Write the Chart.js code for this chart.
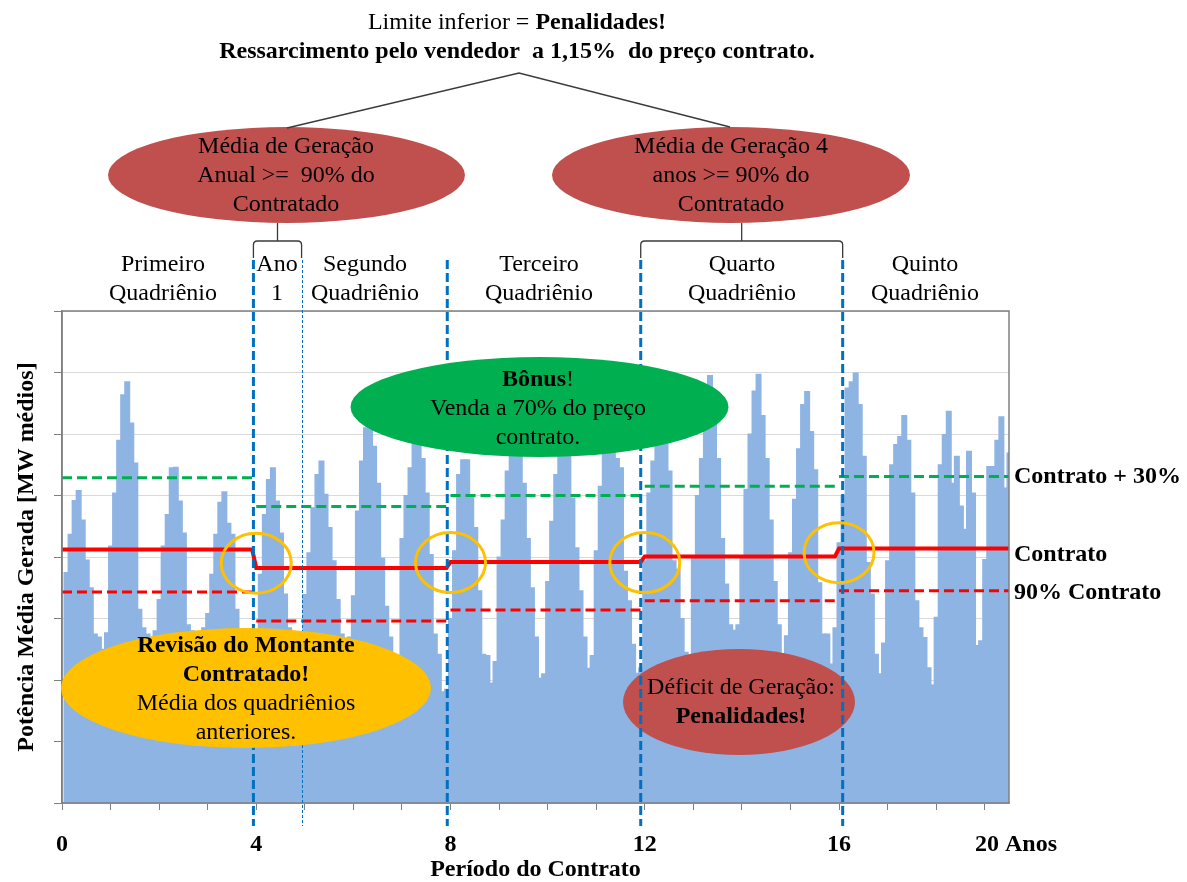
<!DOCTYPE html>
<html lang="pt-BR">
<head>
<meta charset="utf-8">
<title>Período do Contrato</title>
<script src="https://cdn.jsdelivr.net/npm/chart.js@4.4.1/dist/chart.umd.min.js"></script>
<style>
  html, body { margin: 0; padding: 0; background: #fff; }
  canvas { display: block; }
</style>
</head>
<body>
<canvas id="grafico" width="1187" height="882"></canvas>
<script>
// geração média mensal [MW médios], 234 meses - uma linha por ano
const geracao = [
  3.75, 4.37, 4.92, 5.08, 4.60, 3.95, 3.50, 2.75, 2.70, 2.50, 2.77, 4.18,
  5.04, 5.90, 6.64, 6.85, 6.18, 5.53, 3.15, 2.85, 2.75, 2.70, 2.80, 3.31,
  4.18, 4.69, 5.45, 5.46, 4.91, 4.39, 2.90, 2.80, 2.75, 2.78, 2.85, 3.08,
  3.72, 4.37, 4.89, 5.06, 4.55, 4.37, 3.15, 2.80, 2.70, 2.60, 2.60, 2.70,
  3.72, 4.69, 5.26, 5.45, 4.91, 4.39, 3.40, 2.85, 2.75, 2.70, 2.75, 3.39,
  4.07, 4.80, 5.34, 5.56, 5.02, 4.48, 3.94, 3.31, 2.75, 2.68, 2.70, 3.37,
  4.75, 5.56, 6.10, 6.50, 5.80, 5.20, 3.98, 3.20, 2.70, 2.40, 2.35, 4.30,
  5.00, 5.45, 6.20, 6.30, 5.60, 5.04, 4.04, 2.75, 2.42, 1.81, 1.85, 3.00,
  4.10, 5.34, 5.58, 5.58, 4.99, 4.48, 3.45, 2.42, 2.40, 1.95, 2.30, 4.00,
  4.60, 5.40, 6.10, 6.40, 6.00, 5.20, 4.30, 3.50, 2.70, 2.03, 2.10, 3.60,
  4.58, 5.34, 6.10, 6.50, 5.80, 4.96, 4.15, 3.45, 2.70, 2.19, 2.40, 4.10,
  5.15, 5.90, 6.30, 6.50, 5.60, 5.45, 3.77, 3.29, 2.58, 2.11, 2.20, 3.94,
  5.04, 5.56, 6.30, 6.60, 6.20, 5.40, 3.94, 3.80, 3.00, 2.45, 2.41, 3.99,
  5.00, 5.60, 6.50, 6.95, 6.30, 5.60, 4.30, 3.56, 2.90, 2.81, 2.90, 4.00,
  5.10, 6.00, 6.70, 6.97, 6.30, 5.60, 4.60, 3.60, 2.90, 2.41, 2.72, 4.07,
  4.94, 5.76, 6.48, 6.69, 6.04, 5.42, 3.58, 2.75, 2.75, 2.26, 2.85, 4.23,
  5.00, 6.75, 6.85, 6.99, 6.48, 5.64, 3.91, 3.40, 2.42, 2.10, 2.60, 3.94,
  5.50, 5.83, 5.96, 6.30, 5.90, 5.04, 3.29, 2.85, 2.69, 2.20, 1.92, 3.02,
  5.50, 5.99, 6.37, 5.20, 5.64, 4.83, 4.45, 5.72, 5.04, 2.56, 2.64, 3.96,
  5.47, 5.47, 5.90, 6.28, 5.12, 5.69
];
const limites = [0, 48, 96, 144, 192, 234];          // meses - início de cada quadriênio
const contrato = [4.12, 3.82, 3.92, 4.01, 4.14];
const contratoMais30 = [5.29, 4.82, 5.00, 5.15, 5.31];
const contrato90 = [3.43, 2.96, 3.14, 3.29, 3.45];
const rotulosAnos = ['0', '4', '8', '12', '16'];
const divisas = [47.3, 95.2, 143.0, 192.9];            // linhas tracejadas azuis (meses)
const fimAno1 = 59.2;
const revisoes = [3.90, 3.91, 3.91, 4.07];             // centro dos círculos de revisão

const SERIF = '"Liberation Serif", "Times New Roman", serif';
Chart.defaults.font.family = SERIF;
Chart.defaults.color = '#000';

// degraus por quadriênio; rampa = troca de 1 mês entre os níveis
function degraus(valores, rampa) {
  const pts = [];
  valores.forEach((v, k) => {
    const ini = limites[k], fim = limites[k + 1];
    if (rampa) {
      pts.push({x: ini, y: v}, {x: k < valores.length - 1 ? fim - 1 : fim, y: v});
    } else {
      pts.push({x: ini, y: v}, {x: fim, y: v}, {x: fim, y: null});
    }
  });
  return pts;
}

function fonte(tam, negrito) {
  return (negrito ? 'bold ' : '') + tam + 'px ' + SERIF;
}

// escreve uma linha com trechos normais/negrito
function texto(ctx, partes, x, y, esquerda) {
  if (typeof partes === 'string') partes = [[partes, false]];
  const tam = 24;
  let total = 0;
  const larg = partes.map(([t, b]) => {
    ctx.font = fonte(tam, b);
    const w = ctx.measureText(t).width;
    total += w;
    return w;
  });
  let cx = esquerda ? x : x - total / 2;
  ctx.textAlign = 'left';
  ctx.textBaseline = 'middle';
  ctx.fillStyle = '#000';
  partes.forEach(([t, b], k) => {
    ctx.font = fonte(tam, b);
    ctx.fillText(t, cx, y);
    cx += larg[k];
  });
}

function bloco(ctx, linhas, cx, y0) {
  linhas.forEach((l, k) => texto(ctx, l, cx, y0 + k * 29));
}

function elipse(ctx, cx, cy, rx, ry, cor) {
  ctx.beginPath();
  ctx.ellipse(cx, cy, rx, ry, 0, 0, Math.PI * 2);
  ctx.fillStyle = cor;
  ctx.fill();
}

function chave(ctx, x1, x2, xm, yTopo, yBarra, yPe) {
  ctx.beginPath();
  ctx.moveTo(xm, yTopo);
  ctx.lineTo(xm, yBarra);
  ctx.moveTo(x1, yPe);
  ctx.lineTo(x1, yBarra + 4);
  ctx.quadraticCurveTo(x1, yBarra, x1 + 4, yBarra);
  ctx.lineTo(x2 - 4, yBarra);
  ctx.quadraticCurveTo(x2, yBarra, x2, yBarra + 4);
  ctx.lineTo(x2, yPe);
  ctx.stroke();
}

const decoracao = {
  id: 'decoracao',
  afterDraw(chart) {
    const {ctx, chartArea: a, scales} = chart;
    const sx = scales.x2, sy = scales.y;
    ctx.save();

    // moldura da área de plotagem
    ctx.strokeStyle = '#7f7f7f';
    ctx.lineWidth = 1.5;
    ctx.strokeRect(a.left, a.top, a.right - a.left, a.bottom - a.top);

    elipse(ctx, 739, 702, 116, 53, '#c0504d');

    // divisas dos quadriênios
    ctx.strokeStyle = '#0070c0';
    ctx.lineWidth = 3;
    ctx.setLineDash([9, 4]);
    divisas.forEach(m => {
      const x = sx.getPixelForValue(m);
      ctx.beginPath();
      ctx.moveTo(x, 260);
      ctx.lineTo(x, 826);
      ctx.stroke();
    });
    ctx.lineWidth = 1;
    ctx.setLineDash([3, 2]);
    const xa = sx.getPixelForValue(fimAno1);
    ctx.beginPath();
    ctx.moveTo(Math.round(xa) + 0.5, 260);
    ctx.lineTo(Math.round(xa) + 0.5, 826);
    ctx.stroke();
    ctx.setLineDash([]);

    elipse(ctx, 539.5, 407, 189, 50, '#00b050');
    elipse(ctx, 246, 688, 185, 60, '#ffc000');
    elipse(ctx, 286.5, 175, 178.5, 48, '#c0504d');
    elipse(ctx, 731, 175, 179, 48, '#c0504d');

    // círculos de revisão
    ctx.strokeStyle = '#ffc000';
    ctx.lineWidth = 3;
    revisoes.forEach((v, k) => {
      ctx.beginPath();
      ctx.ellipse(sx.getPixelForValue(limites[k + 1]), sy.getPixelForValue(v), 35, 30, 0, 0, Math.PI * 2);
      ctx.stroke();
    });

    // ligações e chaves
    ctx.strokeStyle = '#3a3a3a';
    ctx.lineWidth = 1.3;
    ctx.beginPath();
    ctx.moveTo(287, 128);
    ctx.lineTo(519, 73);
    ctx.lineTo(730, 127);
    ctx.stroke();
    const d = divisas.map(m => sx.getPixelForValue(m));
    chave(ctx, d[0], xa, (d[0] + xa) / 2, 223, 241, 258);
    chave(ctx, d[2], d[3], (d[2] + d[3]) / 2, 223, 241, 258);

    // textos
    texto(ctx, [['Limite inferior = ', false], ['Penalidades!', true]], 517, 23);
    texto(ctx, [['Ressarcimento pelo vendedor  a 1,15%  do preço contrato.', true]], 517, 52);
    bloco(ctx, ['Média de Geração', 'Anual >=  90% do', 'Contratado'], 286, 147);
    bloco(ctx, ['Média de Geração 4', 'anos >= 90% do', 'Contratado'], 731, 147);
    bloco(ctx, ['Primeiro', 'Quadriênio'], 163, 265);
    bloco(ctx, ['Ano', '1'], 277, 265);
    bloco(ctx, ['Segundo', 'Quadriênio'], 365, 265);
    bloco(ctx, ['Terceiro', 'Quadriênio'], 539, 265);
    bloco(ctx, ['Quarto', 'Quadriênio'], 742, 265);
    bloco(ctx, ['Quinto', 'Quadriênio'], 925, 265);
    bloco(ctx, [[['Bônus', true], ['!', false]], 'Venda a 70% do preço', 'contrato.'], 538, 380);
    bloco(ctx, [[['Revisão do Montante', true]], [['Contratado!', true]], 'Média dos quadriênios', 'anteriores.'], 246, 646);
    bloco(ctx, ['Déficit de Geração:', [['Penalidades!', true]]], 741, 688);

    texto(ctx, [['Contrato + 30%', true]], 1014, 477, true);
    texto(ctx, [['Contrato', true]], 1014, 555, true);
    texto(ctx, [['90% Contrato', true]], 1014, 593, true);
    texto(ctx, [['20 Anos', true]], 975, 845, true);

    ctx.restore();
  }
};

const eixoFonte = {family: SERIF, size: 24, weight: 'bold', lineHeight: 1};

new Chart(document.getElementById('grafico').getContext('2d'), {
  type: 'bar',
  data: {
    labels: geracao.map((_, i) => i),
    datasets: [
      {
        type: 'line', label: 'Contrato', data: degraus(contrato, true),
        xAxisID: 'x2', yAxisID: 'y', borderColor: '#ff0000', borderWidth: 4,
        pointRadius: 0, order: 1
      },
      {
        type: 'line', label: 'Contrato + 30%', data: degraus(contratoMais30, false),
        xAxisID: 'x2', yAxisID: 'y', borderColor: '#00b050', borderWidth: 3,
        borderDash: [10, 5], pointRadius: 0, spanGaps: false, order: 2
      },
      {
        type: 'line', label: '90% Contrato', data: degraus(contrato90, false),
        xAxisID: 'x2', yAxisID: 'y', borderColor: '#ff0000', borderWidth: 3,
        borderDash: [10, 5], pointRadius: 0, spanGaps: false, order: 3
      },
      {
        label: 'Geração', data: geracao, xAxisID: 'x', yAxisID: 'y',
        backgroundColor: '#8eb4e3', borderWidth: 0, inflateAmount: 0.5,
        barThickness: 5, order: 10
      }
    ]
  },
  options: {
    responsive: false,
    animation: false,
    layout: {padding: {top: 311, right: 178, bottom: 0, left: 0}},
    plugins: {legend: {display: false}, tooltip: {enabled: false}},
    scales: {
      x: {display: false, offset: true},
      x2: {
        type: 'linear', position: 'bottom', min: 0, max: 234, offset: false,
        grid: {offset: false, drawOnChartArea: false, drawTicks: true, tickLength: 7, tickColor: '#808080'},
        border: {color: '#808080', width: 1.5},
        ticks: {
          stepSize: 12, maxTicksLimit: 40, includeBounds: false, autoSkip: false,
          maxRotation: 0, padding: 23, color: '#000', font: eixoFonte,
          callback: v => (v % 48 === 0 ? rotulosAnos[v / 48] : '')
        },
        title: {display: true, text: 'Período do Contrato', color: '#000', font: eixoFonte, padding: {top: 0, bottom: 0}},
        afterFit: s => { s.height = 79; }
      },
      y: {
        min: 0, max: 8,
        ticks: {stepSize: 1, display: false},
        grid: {color: '#d9d9d9', tickColor: '#808080', tickLength: 8},
        border: {color: '#808080', width: 1.5},
        title: {display: true, text: 'Potência Média Gerada [MW médios]', color: '#000', font: eixoFonte, padding: {top: 15, bottom: 0}},
        afterFit: s => { s.width = 62; }
      }
    }
  },
  plugins: [decoracao]
});
</script>
</body>
</html>
